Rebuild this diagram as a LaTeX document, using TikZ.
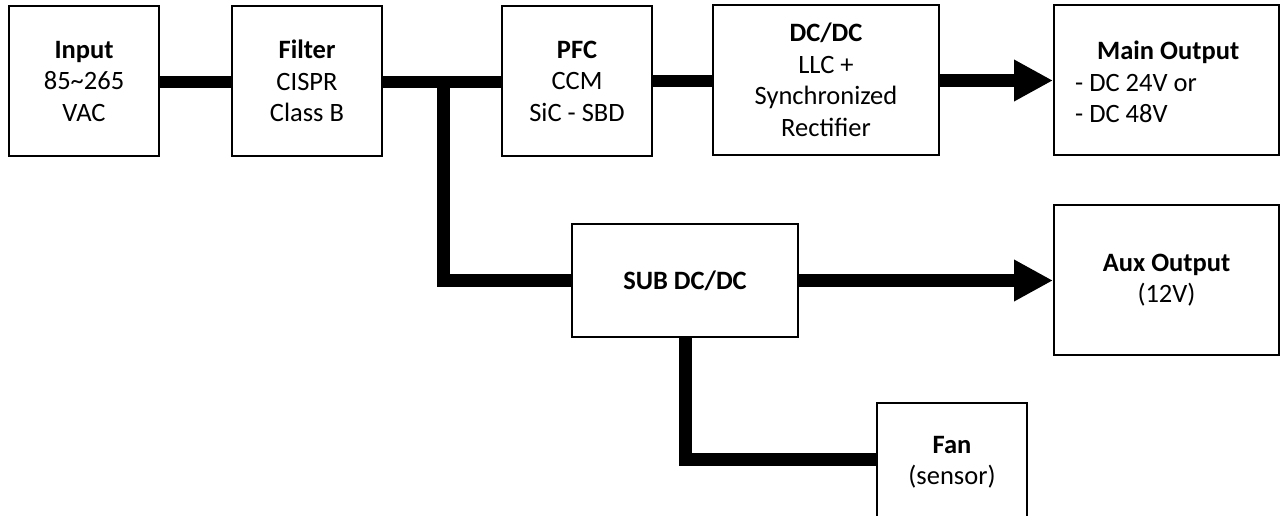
\documentclass[tikz,border=0pt]{standalone}
\usepackage{fontspec}
\setmainfont{Carlito}
\usetikzlibrary{arrows.meta}
\begin{document}
\begin{tikzpicture}[x=1pt,y=-1pt,
  blk/.style={draw=black,line width=2pt,fill=white,inner sep=0pt,align=center,
    font=\fontsize{26.5}{31.5}\selectfont},
  wire/.style={line width=12.5pt,line cap=butt,line join=miter},
  bigarrow/.style={wire,-{Triangle[length=39pt,width=39pt]}},
  txt/.style={inner sep=0pt,font=\fontsize{26.5}{31.5}\selectfont}]
\useasboundingbox (0,0) rectangle (1281,515);
\clip (0,0) rectangle (1281,515);
\node[blk,minimum width=150pt,minimum height=150pt] (input) at (84,81)
  {\textbf{Input}\\85\textasciitilde265\\VAC};
\node[blk,minimum width=150pt,minimum height=150pt] (filter) at (307,81)
  {\textbf{Filter}\\CISPR\\Class B};
\node[blk,minimum width=150pt,minimum height=150pt] (pfc) at (577,81)
  {\textbf{PFC}\\CCM\\SiC - SBD};
\node[blk,minimum width=226pt,minimum height=150pt] (dcdc) at (826,80)
  {\textbf{DC/DC}\\LLC +\\Synchronized\\Rectifier};
\node[blk,minimum width=225pt,minimum height=150pt] (main) at (1166.5,80) {};
\node[txt,align=left,anchor=west] (maintext) at (1075,82)
  {\hspace*{22pt}\textbf{Main Output}\\- DC 24V or\\- DC 48V};
\node[blk,minimum width=226pt,minimum height=113pt] (sub) at (685,280.5)
  {\textbf{SUB DC/DC}};
\node[blk,minimum width=225pt,minimum height=150pt] (aux) at (1166.5,280)
  {\textbf{Aux Output}\\(12V)};
\node[blk,minimum width=150pt,minimum height=118pt] (fan) at (952,462)
  {\textbf{Fan}\\(sensor)};
\coordinate (j) at (443.5,82);
\coordinate (f) at (685.5,459.5);
\draw[wire] (input.east |- 0,82) -- (filter.west |- 0,82);
\draw[wire] (filter.east |- 0,82) -- (pfc.west |- 0,82);
\draw[wire] (j) |- (sub.west);
\draw[wire] (pfc.east |- 0,81) -- (dcdc.west |- 0,81);
\draw[bigarrow] (dcdc.east |- 0,80.5) -- (main.west |- 0,80.5);
\draw[bigarrow] (sub.east) -- (aux.west |- sub.east);
\draw[wire] (sub.south -| f) -- (f) -- (fan.west |- f);
\end{tikzpicture}
\end{document}
